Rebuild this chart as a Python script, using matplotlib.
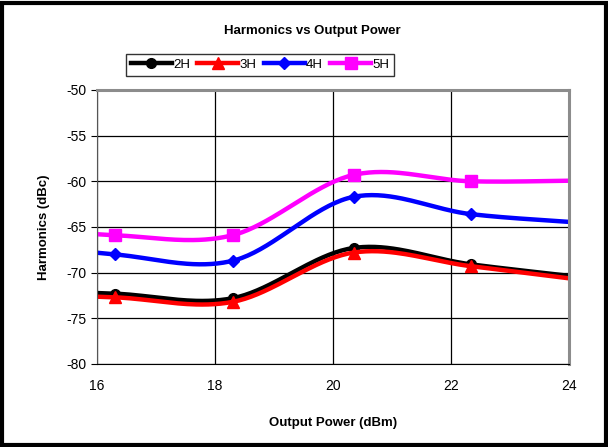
import numpy as np
import matplotlib.pyplot as plt
from matplotlib.patches import Rectangle

plt.rcParams['font.family'] = ['Liberation Sans', 'DejaVu Sans']
plt.rcParams['axes.unicode_minus'] = False

# output power (dBm); first and last points lie outside the visible range
power = [14.3, 16.3, 18.3, 20.35, 22.35, 24.35]
h2 = [-71.8, -72.3, -72.8, -67.3, -69.1, -70.6]
h3 = [-72.2, -72.7, -73.2, -67.8, -69.3, -70.9]
h4 = [-66.5, -68.0, -68.7, -61.7, -63.6, -64.6]
h5 = [-64.8, -65.9, -65.9, -59.3, -60.0, -59.9]

names = ['2H', '3H', '4H', '5H']
colors = ['black', '#FF0000', '#0000FF', '#FF00FF']
markers = ['o', '^', 'D', 's']
msizes = [7, 8, 6, 8]


def smooth(x, y, n=40):
    # Excel style smoothed line (Catmull-Rom through the points)
    x = np.asarray(x, float)
    y = np.asarray(y, float)
    px = np.concatenate([[2 * x[0] - x[1]], x, [2 * x[-1] - x[-2]]])
    py = np.concatenate([[2 * y[0] - y[1]], y, [2 * y[-1] - y[-2]]])
    t = np.linspace(0, 1, n)
    xs, ys = [], []
    for i in range(1, len(px) - 2):
        for p, out in ((px, xs), (py, ys)):
            p0, p1, p2, p3 = p[i - 1], p[i], p[i + 1], p[i + 2]
            c1 = p1 + (p2 - p0) / 6
            c2 = p2 - (p3 - p1) / 6
            out.extend((1 - t) ** 3 * p1 + 3 * (1 - t) ** 2 * t * c1
                       + 3 * (1 - t) * t ** 2 * c2 + t ** 3 * p2)
    return np.array(xs), np.array(ys)


fig = plt.figure(figsize=(6.08, 4.47), dpi=100)
ax = fig.add_axes([0.1595, 0.1857, 0.776, 0.613])

for vals, name, c, m, ms in zip([h2, h3, h4, h5], names, colors, markers, msizes):
    sx, sy = smooth(power, vals)
    ax.plot(sx, sy, color=c, lw=3.2, solid_capstyle='butt')
    ax.plot(power[1:-1], vals[1:-1], ls='none', marker=m, ms=ms, color=c)
    ax.plot([], [], color=c, lw=3.2, marker=m, ms=ms, label=name)

ax.set_xlim(16, 24)
ax.set_ylim(-80, -50)
ax.set_xticks([16, 18, 20, 22, 24])
ax.set_yticks(np.arange(-80, -49, 5))
ax.grid(True, color='black', lw=0.9)
ax.set_axisbelow(True)
ax.tick_params(labelsize=10, length=4, width=0.8, direction='out')
ax.tick_params(axis='x', length=0, pad=11)
for s in ['top', 'right']:
    ax.spines[s].set_color('#8c8c8c')
    ax.spines[s].set_linewidth(2.2)
ax.spines['left'].set_color('#555555')
ax.spines['bottom'].set_color('black')

ax.set_xlabel('Output Power (dBm)', fontsize=9.5, fontweight='bold', labelpad=17)
ax.set_ylabel('Harmonics (dBc)', fontsize=9.5, fontweight='bold', labelpad=12)
fig.text(0.513, 0.93, 'Harmonics vs Output Power', ha='center', va='center',
         fontsize=9.5, fontweight='bold')

leg = ax.legend(ncol=4, loc='center', bbox_to_anchor=(0.4277, 0.855),
                bbox_transform=fig.transFigure, fontsize=9.5, frameon=True,
                fancybox=False, handlelength=3.1, handletextpad=0.1,
                columnspacing=0.55, borderpad=0.35)
leg.get_frame().set_edgecolor('black')
leg.get_frame().set_linewidth(1)

fig.patches.append(Rectangle((0.004, 0.004), 0.992, 0.99, transform=fig.transFigure,
                             fill=False, edgecolor='black', lw=3))

plt.savefig('out.png', dpi=100)
